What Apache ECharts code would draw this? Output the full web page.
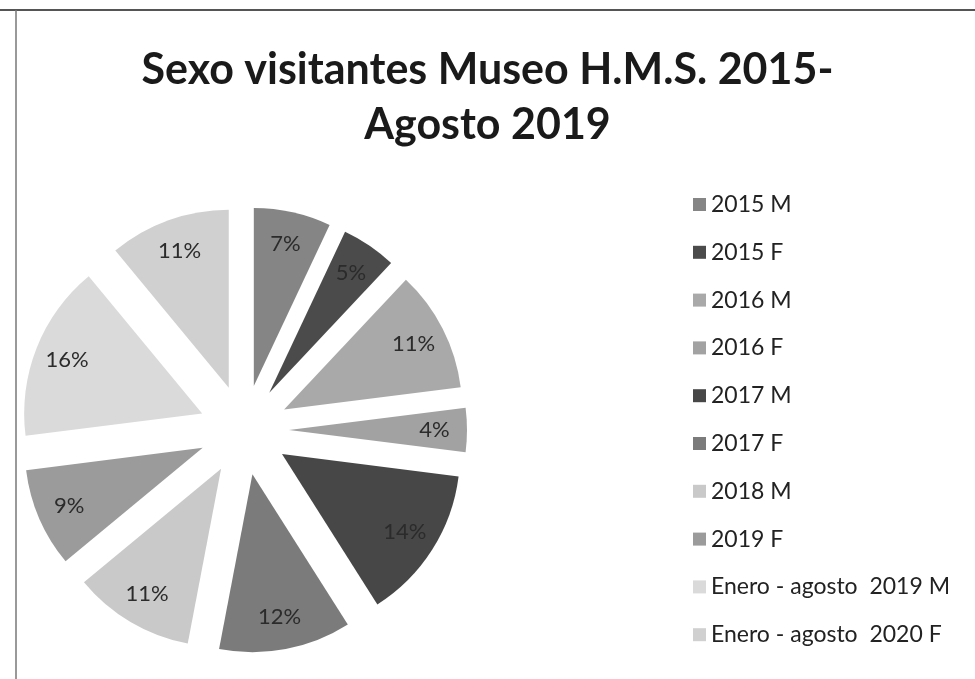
<!DOCTYPE html>
<html lang="es">
<head>
    <meta charset="UTF-8">
    <title>Sexo visitantes Museo H.M.S.</title>
    <style>
        html, body { margin: 0; padding: 0; background: #fff; }
    </style>
</head>
<body>
<div id="main" style="width: 975px;height:679px;"></div>
<script src="https://cdn.jsdelivr.net/npm/echarts@6/dist/echarts.min.js"></script>

<script>
    var categories = ['2015 M', '2015 F', '2016 M', '2016 F', '2017 M', '2017 F', '2018 M', '2019 F',
        'Enero - agosto  2019 M', 'Enero - agosto  2020 F'];
    var percents = [7, 5, 11, 4, 14, 12, 11, 9, 16, 11];
    var grays = ['#858585', '#4b4b4b', '#a9a9a9', '#a2a2a2', '#474747', '#7b7b7b', '#c9c9c9', '#9b9b9b', '#dadada', '#d0d0d0'];

    var R = 178;
    var center = [244, 430];

    var pieData = [];
    var labelData = [];
    for (var i = 0; i < categories.length; i++) {
        pieData.push({
            name: categories[i],
            value: percents[i],
            selected: true,
            itemStyle: {color: grays[i]}
        });
        labelData.push({
            name: categories[i],
            value: percents[i],
            selected: true
        });
    }

    var myChart = echarts.init(document.getElementById('main'));
    var option = {
        animation: false,
        title: {
            text: 'Sexo visitantes Museo H.M.S. 2015-\nAgosto 2019',
            left: 'center',
            top: 38,
            textStyle: {
                fontFamily: 'Lato',
                fontWeight: 'bold',
                fontSize: 43,
                lineHeight: 55,
                color: '#1a1a1a'
            }
        },
        legend: {
            orient: 'vertical',
            left: 688,
            top: 188,
            icon: 'rect',
            itemWidth: 13,
            itemHeight: 13,
            itemGap: 24.8,
            data: categories,
            selectedMode: false,
            textStyle: {
                fontFamily: 'Lato',
                fontSize: 23,
                lineHeight: 23,
                color: '#222'
            }
        },
        graphic: [
            {type: 'line', shape: {x1: 0, y1: 10, x2: 975, y2: 10}, style: {stroke: '#555', lineWidth: 2}},
            {type: 'line', shape: {x1: 16, y1: 10, x2: 16, y2: 679}, style: {stroke: '#777', lineWidth: 1.5}}
        ],
        series: [{
            type: 'pie',
            center: center,
            radius: [0, R],
            startAngle: 90,
            clockwise: true,
            selectedMode: 'multiple',
            selectedOffset: 45,
            label: {show: false},
            labelLine: {show: false},
            emphasis: {disabled: true},
            select: {disabled: false, itemStyle: {borderWidth: 0}},
            data: pieData
        }, {
            type: 'pie',
            center: center,
            radius: [R * 0.6, R],
            startAngle: 90,
            clockwise: true,
            selectedMode: 'multiple',
            selectedOffset: 45,
            silent: true,
            itemStyle: {color: 'rgba(0,0,0,0)'},
            label: {
                show: true,
                position: 'inside',
                formatter: '{c}%',
                fontFamily: 'Lato',
                fontSize: 22,
                color: '#2b2b2b'
            },
            labelLine: {show: false},
            emphasis: {disabled: true},
            data: labelData
        }]
    };

    myChart.setOption(option);
</script>

</body>
</html>
